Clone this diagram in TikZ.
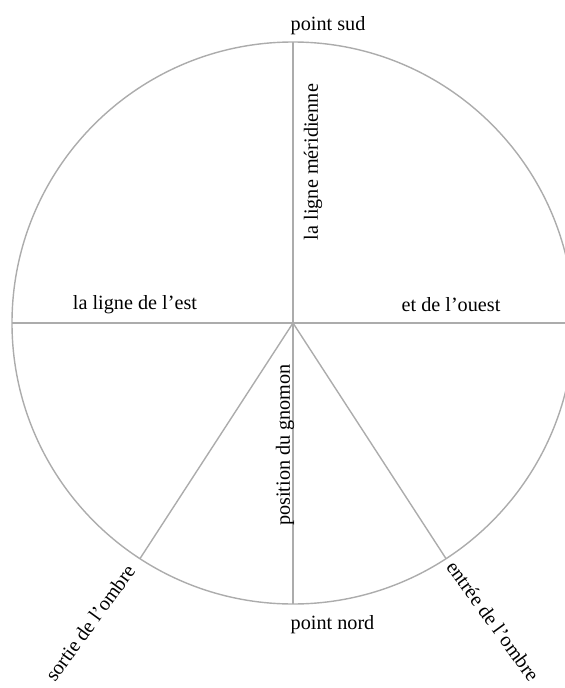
\documentclass[tikz,border=0pt]{standalone}
\usepackage{fontspec}
\setmainfont{Liberation Serif}
\begin{document}
\begin{tikzpicture}[line width=0.8pt, every node/.style={font=\fontsize{11.5}{13}\selectfont}]
			
			% frame (the circle runs past the right edge)
			\clip (-5.86,-7.30) rectangle (5.44,6.46);
			
			% circle and points on it
			\def\R{5.62}
			\coordinate (O) at (0,0);
			\coordinate (sud) at (90:\R);
			\coordinate (nord) at (270:\R);
			\coordinate (est) at (180:\R);
			\coordinate (ouest) at (0:\R);
			\coordinate (sortie) at (237:\R);
			\coordinate (entree) at (303:\R);
			\draw[gray!65] (O) circle (\R);
			
			% meridian and east-west line
			\draw[gray!65] (O) -- (sud);
			\draw[gray!65] (O) -- (nord);
			\draw[gray!65] (O) -- (est);
			\draw[gray!65] (O) -- (ouest);
			
			% shadow lines
			\draw[gray!65] (O) -- (sortie);
			\draw[gray!65] (O) -- (entree);
			
			% labels
			\node (lsud) [anchor=base west, inner sep=0pt] at (-0.06,5.86) {point sud};
			\node (lnord) [anchor=base west, inner sep=0pt] at (-0.06,-6.12) {point nord};
			\node (lmer) [rotate=90] at (0.40,3.22) {la ligne méridienne};
			\node (lest) at (-3.16,0.36) {la ligne de l’est};
			\node (louest) at (3.16,0.36) {et de l’ouest};
			\node (lgno) [rotate=90] at (-0.16,-2.44) {position du gnomon};
			\node (lsortie) [rotate=54, inner sep=0pt] at (-4.06,-6.0) {sortie de l’ombre};
			\node (lentree) [rotate=-54, inner sep=0pt] at (4.0,-5.96) {entrée de l’ombre};
			
		\end{tikzpicture}
\end{document}
